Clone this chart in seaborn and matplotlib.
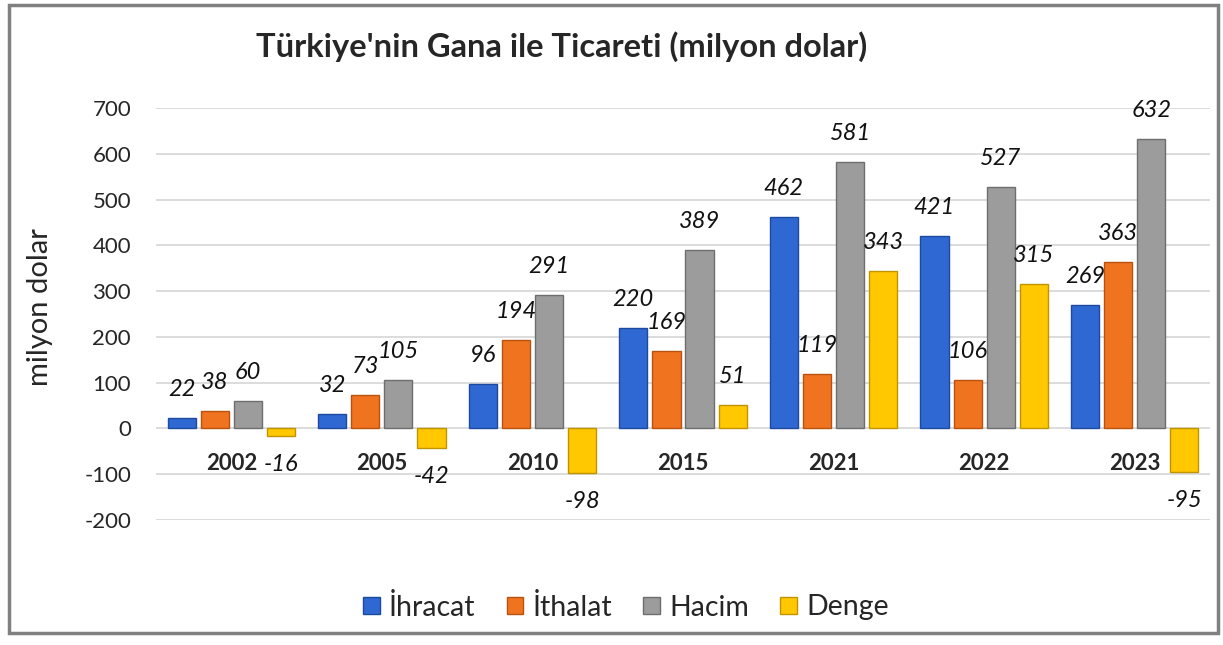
import matplotlib
matplotlib.use("Agg")
import matplotlib.pyplot as plt
import seaborn as sns
import pandas as pd
from matplotlib.patches import Rectangle, Patch

# ---- data ----
years = ["2002", "2005", "2010", "2015", "2021", "2022", "2023"]
series = ["İhracat", "İthalat", "Hacim", "Denge"]
ihracat = [22, 32, 96, 220, 462, 421, 269]
ithalat = [38, 73, 194, 169, 119, 106, 363]
hacim = [60, 105, 291, 389, 581, 527, 632]
denge = [-16, -42, -98, 51, 343, 315, -95]
yticks = [-200, -100, 0, 100, 200, 300, 400, 500, 600, 700]

title = "Türkiye'nin Gana ile Ticareti (milyon dolar)"
ylabel = "milyon dolar"

colors = ["#2F68D2", "#F07320", "#9C9C9C", "#FFC800"]
edges = ["#1E4A9E", "#B8520F", "#6E6E6E", "#C09400"]

rows = []
for name, vals in zip(series, [ihracat, ithalat, hacim, denge]):
    for y, v in zip(years, vals):
        rows.append({"Yıl": y, "Seri": name, "Değer": v})
df = pd.DataFrame(rows)

sns.set_theme(style="white")
plt.rcParams["font.family"] = ["Lato", "DejaVu Sans"]
plt.rcParams["axes.unicode_minus"] = False

W, H = 1223, 645
fig = plt.figure(figsize=(W / 100, H / 100), dpi=100)
ax = fig.add_axes([156 / W, 1 - 520 / H, (1210 - 156) / W, (520 - 108) / H])

sns.barplot(data=df, x="Yıl", y="Değer", hue="Seri", order=years,
            hue_order=series, palette=colors, width=0.88, gap=0.15,
            saturation=1, errorbar=None, ax=ax, legend=False)

for cont, ec in zip(ax.containers, edges):
    for p in cont:
        p.set_edgecolor(ec)
        p.set_linewidth(1.0)
    ax.bar_label(cont, fmt="%d", padding=13, fontsize=17,
                 fontstyle="italic", color="#111111")

ax.set_ylim(-200, 700)
ax.set_yticks(yticks)
ax.grid(axis="y", color="#D9D9D9", linewidth=1.3)
ax.grid(axis="x", visible=False)
ax.set_axisbelow(True)
for s in ["top", "right", "left"]:
    ax.spines[s].set_visible(False)
ax.spines["bottom"].set_position(("data", 0))
ax.spines["bottom"].set_visible(False)

ax.tick_params(axis="x", length=0, pad=18, labelsize=16)
for lab in ax.get_xticklabels():
    lab.set_fontweight("bold")
ax.tick_params(axis="y", length=0, pad=18, labelsize=16)
ax.set_xlabel("")
ax.set_ylabel(ylabel, fontsize=21)
ax.yaxis.set_label_coords((53 - 156) / 1054, (520 - 307) / 412)

handles = [Patch(facecolor=c, edgecolor=e) for c, e in zip(colors, edges)]
fig.legend(handles, series, loc="center", bbox_to_anchor=(626 / W, 1 - 607 / H),
           ncol=4, frameon=False, fontsize=20.5, handlelength=0.58,
           handleheight=0.58, handletextpad=0.32, columnspacing=1.1)

fig.text(562 / W, 1 - 47 / H, title, ha="center", va="center",
         fontsize=23.5, fontweight="bold")

fig.patches.append(Rectangle((9 / W, 1 - 633 / H), (1218 - 9) / W, (633 - 5) / H,
                             transform=fig.transFigure, fill=False,
                             edgecolor="#808080", linewidth=2.5))

fig.savefig("out.png", dpi=100)
